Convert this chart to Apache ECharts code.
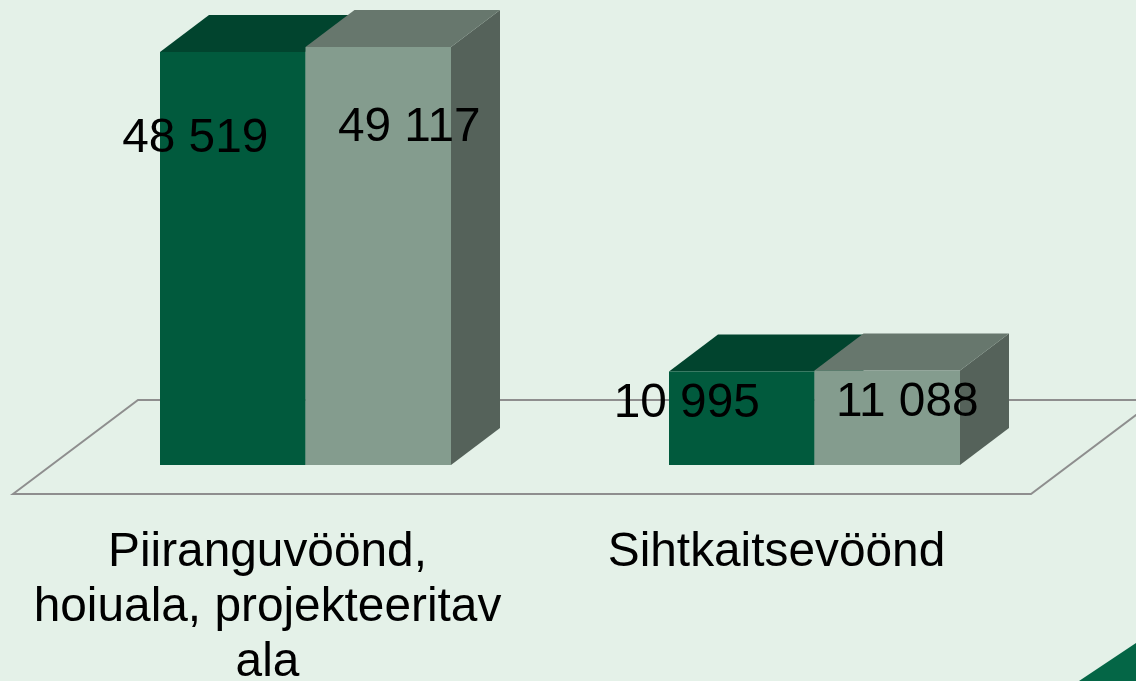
<!DOCTYPE html>
<html>
<head>
<meta charset="utf-8">
<title>Piiranguvöönd ja sihtkaitsevöönd</title>
<style>
html, body { margin: 0; padding: 0; background: #e4f1e8; }
#chart { width: 1136px; height: 681px; }
</style>
<script src="https://cdn.jsdelivr.net/npm/echarts@6/dist/echarts.min.js"></script>
</head>
<body>
<div id="chart"></div>
<script>
var categories = ['Piiranguvöönd,\nhoiuala, projekteeritav\nala', 'Sihtkaitsevöönd'];
var seriesA = [48519, 10995];
var seriesB = [49117, 11088];

// face colours: front, top, side
var colorsA = ['#015a3d', '#01442e', '#01442e'];
var colorsB = ['#849c8e', '#67776d', '#55625a'];

// label offsets by hand, from bar centre and bar top (category order)
var labelShiftA = [[-37.5, 87], [-55, 32]];
var labelShiftB = [[31, 80.5], [20, 32]];

// perspective of the box
var depthX = 49, depthY = 37;
var barWidth = 145.5;
var shiftX = 38; // bars stand further back than the front edge of the floor

var myChart = echarts.init(document.getElementById('chart'));

function fmt(v) {
    return String(v).replace(/\B(?=(\d{3})+$)/g, ' ');
}

function poly(points, color) {
    return { type: 'polygon', shape: { points: points }, style: { fill: color, stroke: null } };
}

function barRenderer(colors, side, shifts) {
    return function (params, api) {
        var base = api.coord([api.value(0), 0]);
        var top = api.coord([api.value(0), api.value(1)]);
        var x0 = base[0] + shiftX + (side < 0 ? -barWidth : 0);
        var x1 = x0 + barWidth;
        var y0 = base[1], y1 = top[1];
        var s = shifts[params.dataIndex];
        return {
            type: 'group',
            children: [
                poly([[x1, y0], [x1 + depthX, y0 - depthY], [x1 + depthX, y1 - depthY], [x1, y1]], colors[2]),
                poly([[x0, y1], [x0 + depthX, y1 - depthY], [x1 + depthX, y1 - depthY], [x1, y1]], colors[1]),
                poly([[x0, y0], [x1, y0], [x1, y1], [x0, y1]], colors[0]),
                {
                    type: 'text',
                    z2: 100,
                    style: {
                        text: fmt(api.value(1)),
                        x: (x0 + x1) / 2 + s[0],
                        y: y1 + s[1],
                        fill: '#000',
                        font: '47.8px "Liberation Sans", Arial, sans-serif',
                        align: 'center',
                        verticalAlign: 'middle'
                    }
                }
            ]
        };
    };
}

// floor is tied to the grid box
function floorRenderer(params) {
    var g = params.coordSys;
    var yf = g.y + g.height + 29;
    var yb = yf - 94;
    return {
        type: 'polygon',
        shape: { points: [[g.x, yf], [g.x + 125, yb], [g.x + g.width + 125, yb], [g.x + g.width, yf]] },
        style: { fill: 'none', stroke: '#8e8e8e', lineWidth: 2 }
    };
}

myChart.setOption({
    backgroundColor: '#e4f1e8',
    animation: false,
    grid: { left: 13, width: 1018, top: 39.4, height: 425.6, outerBoundsMode: 'none' },
    xAxis: {
        type: 'category',
        data: categories,
        axisLine: { show: false },
        axisTick: { show: false },
        axisLabel: {
            interval: 0,
            margin: 60,
            color: '#000',
            fontFamily: '"Liberation Sans", Arial, sans-serif',
            fontSize: 47.8,
            lineHeight: 55
        }
    },
    yAxis: { type: 'value', min: 0, max: 50000, show: false },
    graphic: [{
        type: 'polygon',
        silent: true,
        shape: { points: [[1079, 681], [1136, 643], [1136, 681]] },
        style: { fill: '#046646' }
    }],
    series: [
        { type: 'custom', coordinateSystem: 'cartesian2d', renderItem: floorRenderer, data: [[0, 0]], silent: true, clip: false, z: 1 },
        { type: 'custom', name: 'A', coordinateSystem: 'cartesian2d', renderItem: barRenderer(colorsA, -1, labelShiftA), data: seriesA.map(function (v, i) { return [i, v]; }), clip: false, z: 2 },
        { type: 'custom', name: 'B', coordinateSystem: 'cartesian2d', renderItem: barRenderer(colorsB, 1, labelShiftB), data: seriesB.map(function (v, i) { return [i, v]; }), clip: false, z: 3 }
    ]
});
</script>
</body>
</html>
